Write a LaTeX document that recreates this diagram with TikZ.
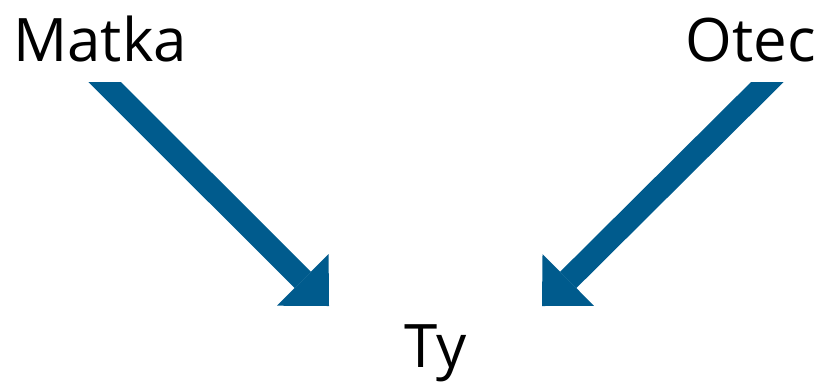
\documentclass[tikz,border=0pt]{standalone}
\usepackage{fontspec}
\setmainfont{Open Sans}
\usepackage{xcolor}
\usepackage{tikz}
\usetikzlibrary{arrows.meta, calc}

\definecolor{arrowblue}{HTML}{005B8D}

\begin{document}
\begin{tikzpicture}[
    x=0.5pt, y=-0.5pt,
    who/.style={inner sep=0pt, font=\fontsize{30}{36}\selectfont},
    arrow/.style={arrowblue, line width=11.5pt, -{Triangle[length=18.5pt, width=36.5pt, line width=0pt]}}
]
\useasboundingbox (0,0) rectangle (829,382);

% Names
\node[who, anchor=base west] (matka) at (13, 61) {Matka};
\node[who, anchor=base east] (otec) at (816, 61) {Otec};
\node[who, anchor=base] (ty) at (435.5, 367) {Ty};

% Arrow ends
\coordinate (mstart) at (84.5, 62);
\coordinate (mtip) at (329, 306);
\coordinate (ostart) at (787.5, 62);
\coordinate (otip) at (542, 306);

% Arrows (cut flat at the top)
\begin{scope}
\clip (0, 82) rectangle (829, 382);
\draw[arrow] (mstart) -- (mtip);
\draw[arrow] (ostart) -- (otip);
\end{scope}

\end{tikzpicture}
\end{document}
